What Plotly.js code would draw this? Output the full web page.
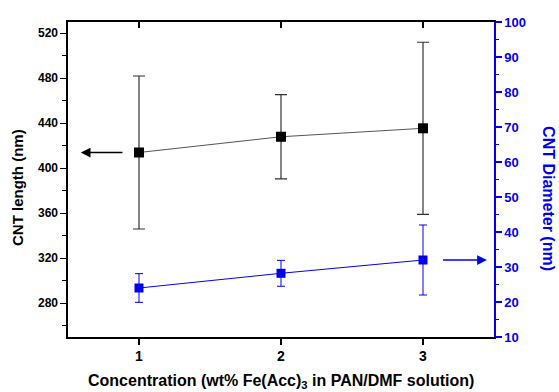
<!DOCTYPE html>
<html>
<head>
<meta charset="utf-8">
<script src="https://cdn.plot.ly/plotly-3.0.1.min.js"></script>
<style>html,body{margin:0;padding:0;background:#fff}#chart{width:559px;height:392px}</style>
</head>
<body>
<div id="chart"></div>
<script>
// Data
const concentrations = [1, 2, 3];
const lengthVals = [414, 428, 435.5];
const lengthErr = [68, 37.5, 76.5];
const diameterVals = [24, 28.2, 32];
const diameterErr = [4.1, 3.7, 10];
const xTickVals = [1, 2, 3];

const FONT = 'Arial, "Liberation Sans", sans-serif';
const BLUE = '#0000f0';

const traceLength = {
  x: concentrations, y: lengthVals, xaxis: 'x', yaxis: 'y',
  type: 'scatter', mode: 'lines+markers',
  line: {color: '#555555', width: 1},
  marker: {symbol: 'square', size: 10, color: '#000000'},
  error_y: {type: 'data', array: lengthErr, visible: true, color: '#333333', thickness: 1.2, width: 6},
  showlegend: false, hoverinfo: 'skip'
};
const traceDiameter = {
  x: concentrations, y: diameterVals, xaxis: 'x2', yaxis: 'y2',
  type: 'scatter', mode: 'lines+markers',
  line: {color: BLUE, width: 1},
  marker: {symbol: 'square', size: 9, color: BLUE},
  error_y: {type: 'data', array: diameterErr, visible: true, color: BLUE, thickness: 1, width: 4},
  showlegend: false, hoverinfo: 'skip'
};

const layout = {
  width: 559, height: 392,
  margin: {l: 68, r: 65, t: 22, b: 55},
  paper_bgcolor: '#ffffff', plot_bgcolor: '#ffffff',
  font: {family: FONT, color: '#000'},
  xaxis: {
    range: [0.5, 3.5], tickmode: 'array', tickvals: xTickVals,
    ticks: 'outside', ticklen: 6, tickwidth: 1.3, tickcolor: '#000',
    showline: true, linecolor: '#000', linewidth: 1.6, showgrid: false, zeroline: false,
    tickfont: {size: 14, weight: 'bold', family: FONT, color: '#000'}
  },
  xaxis2: {
    range: [0.5, 3.5], overlaying: 'x', side: 'top', anchor: 'y2',
    tickmode: 'array', tickvals: xTickVals, ticks: 'inside', ticklen: 6, tickwidth: 1.3, tickcolor: '#000',
    showline: true, linecolor: '#000', linewidth: 1.6, showgrid: false, zeroline: false,
    showticklabels: false
  },
  yaxis: {
    range: [250, 530], tickmode: 'linear', tick0: 280, dtick: 40,
    ticks: 'outside', ticklen: 6, tickwidth: 1.3, tickcolor: '#000',
    minor: {tickmode: 'linear', tick0: 260, dtick: 20, ticks: 'outside', ticklen: 4, tickwidth: 1.1, tickcolor: '#000', showgrid: false},
    showline: true, linecolor: '#000', linewidth: 1.6, showgrid: false, zeroline: false,
    tickfont: {size: 12, weight: 'bold', family: FONT, color: '#000'}
  },
  yaxis2: {
    range: [10, 100], overlaying: 'y', side: 'right', anchor: 'x2',
    tickmode: 'linear', tick0: 10, dtick: 10,
    ticks: 'outside', ticklen: 6, tickwidth: 1.3, tickcolor: BLUE,
    minor: {tickmode: 'linear', tick0: 15, dtick: 10, ticks: 'outside', ticklen: 3, tickwidth: 1.1, tickcolor: BLUE, showgrid: false},
    showline: true, linecolor: BLUE, linewidth: 1.6, showgrid: false, zeroline: false,
    tickfont: {size: 13, weight: 'bold', family: FONT, color: BLUE}
  },
  annotations: [
    {xref: 'paper', yref: 'paper', x: 0.5, y: 0, yshift: -44, xanchor: 'center', yanchor: 'middle',
     text: 'Concentration (wt% Fe(Acc)<sub>3</sub> in PAN/DMF solution)', showarrow: false,
     font: {size: 16, weight: 'bold', family: FONT, color: '#000'}},
    {xref: 'paper', yref: 'paper', x: 0, xshift: -51, y: 0.473, xanchor: 'center', yanchor: 'middle',
     text: 'CNT length (nm)', textangle: -90, showarrow: false,
     font: {size: 15, weight: 'bold', family: FONT, color: '#000'}},
    {xref: 'paper', yref: 'paper', x: 1, xshift: 55, y: 0.441, xanchor: 'center', yanchor: 'middle',
     text: 'CNT Diameter (nm)', textangle: 90, showarrow: false,
     font: {size: 16, weight: 'bold', family: FONT, color: BLUE}},
    {xref: 'x', yref: 'y', x: 0.59, y: lengthVals[0], axref: 'x', ayref: 'y', ax: 0.894, ay: lengthVals[0],
     text: '', showarrow: true, arrowhead: 2, arrowsize: 1.5, arrowwidth: 1.3, arrowcolor: '#000'},
    {xref: 'x2', yref: 'y2', x: 3.45, y: diameterVals[2], axref: 'x2', ayref: 'y2', ax: 3.13, ay: diameterVals[2],
     text: '', showarrow: true, arrowhead: 2, arrowsize: 1.5, arrowwidth: 1.3, arrowcolor: BLUE}
  ]
};

Plotly.newPlot('chart', [traceLength, traceDiameter], layout, {displayModeBar: false, staticPlot: true});
</script>
</body>
</html>
